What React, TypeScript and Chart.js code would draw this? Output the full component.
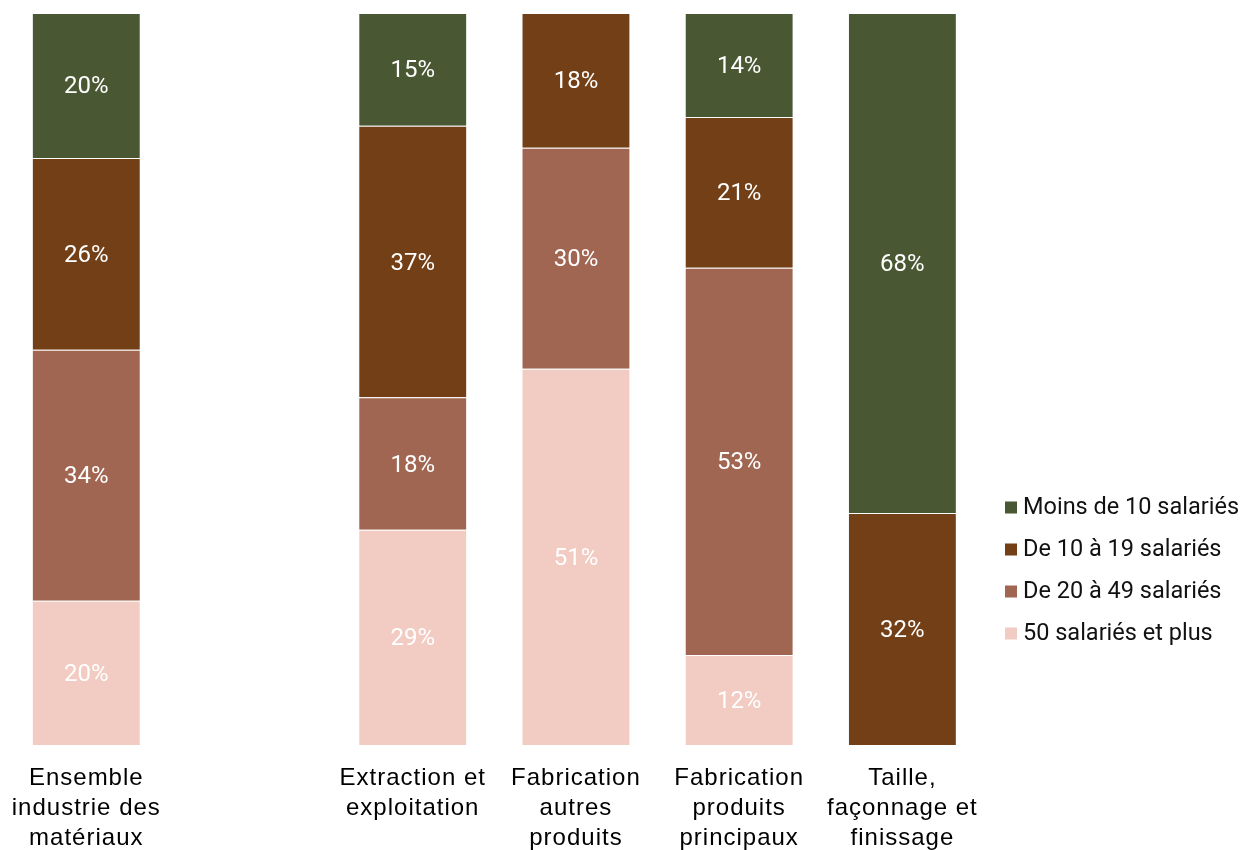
import React, { useEffect, useRef } from "react";
import { Chart, registerables } from "chart.js";

Chart.register(...registerables);

const categories: string[][] = [
  ["Ensemble", "industrie des", "matériaux"],
  [""],
  ["Extraction et", "exploitation"],
  ["Fabrication", "autres", "produits"],
  ["Fabrication", "produits", "principaux"],
  ["Taille,", "façonnage et", "finissage"],
];

const seriesNames = [
  "50 salariés et plus",
  "De 20 à 49 salariés",
  "De 10 à 19 salariés",
  "Moins de 10 salariés",
];

const plus50 = [19.7, null, 29.4, 51.4, 12.3, 0];
const de20a49 = [34.3, null, 18.1, 30.2, 52.9, 0];
const de10a19 = [26.2, null, 37.1, 18.4, 20.6, 31.7];
const moins10 = [19.8, null, 15.4, 0, 14.2, 68.3];

const seriesValues = [plus50, de20a49, de10a19, moins10];
const seriesColors = ["#f2cbc2", "#a16652", "#723f16", "#4a5733"];

const W = 1245;
const H = 880;

const letterSpacingPlugin = {
  id: "xLetterSpacing",
  beforeDraw(chart: any) {
    (chart.ctx as any).letterSpacing = "1px";
  },
  beforeDatasetsDraw(chart: any) {
    (chart.ctx as any).letterSpacing = "0px";
  },
};

const valueLabelPlugin = {
  id: "valueLabels",
  afterDatasetsDraw(chart: any) {
    const ctx = chart.ctx as CanvasRenderingContext2D;
    ctx.save();
    (ctx as any).letterSpacing = "0px";
    ctx.font = "24px Roboto";
    ctx.fillStyle = "#ffffff";
    ctx.textAlign = "center";
    ctx.textBaseline = "middle";
    chart.data.datasets.forEach((ds: any, i: number) => {
      const meta = chart.getDatasetMeta(i);
      meta.data.forEach((bar: any, j: number) => {
        const v = ds.data[j];
        if (v === null || v === undefined || v === 0) return;
        const cy = (bar.y + bar.base) / 2;
        ctx.fillText(Math.round(v) + "%", bar.x, cy + 2);
      });
    });
    ctx.restore();
  },
};

const legendPlugin = {
  id: "customLegend",
  afterDraw(chart: any) {
    const ctx = chart.ctx as CanvasRenderingContext2D;
    const area = chart.chartArea;
    const x0 = area.right + 21;
    const y0 = 507.5;
    const step = 42;
    ctx.save();
    (ctx as any).letterSpacing = "0px";
    ctx.font = "23.5px Roboto";
    ctx.textBaseline = "middle";
    ctx.textAlign = "left";
    const ds = chart.data.datasets;
    for (let k = 0; k < ds.length; k++) {
      const d = ds[ds.length - 1 - k];
      const y = y0 + k * step;
      ctx.fillStyle = d.backgroundColor;
      ctx.fillRect(x0, y - 6, 12, 12);
      ctx.fillStyle = "#111111";
      ctx.fillText(d.label, x0 + 18, y + 1);
    }
    ctx.restore();
  },
};

export default function App() {
  const ref = useRef<HTMLCanvasElement | null>(null);

  useEffect(() => {
    if (!ref.current) return;
    const chart = new Chart(ref.current, {
      type: "bar",
      data: {
        labels: categories,
        datasets: seriesNames.map((name, i) => ({
          label: name,
          data: seriesValues[i],
          backgroundColor: seriesColors[i],
          borderColor: "rgba(255,255,255,0.12)",
          borderWidth: 1,
          barPercentage: 0.667,
          categoryPercentage: 1,
        })),
      },
      options: {
        animation: false,
        responsive: false,
        devicePixelRatio: 1,
        layout: { padding: { left: 3, right: 261, top: 13, bottom: 0 } },
        plugins: {
          legend: { display: false },
          tooltip: { enabled: false },
        },
        scales: {
          x: {
            stacked: true,
            grid: { display: false, drawTicks: false },
            border: { display: false },
            ticks: {
              color: "#000000",
              font: { family: "'Liberation Sans', Arial, sans-serif", size: 24, lineHeight: 1.25 },
              padding: 18,
              maxRotation: 0,
              minRotation: 0,
              autoSkip: false,
            },
            afterFit: (scale: any) => {
              scale.height = H - 745;
            },
          },
          y: {
            stacked: true,
            display: false,
            min: 0,
            max: 100,
          },
        },
      },
      plugins: [letterSpacingPlugin, valueLabelPlugin, legendPlugin],
    });
    return () => chart.destroy();
  }, []);

  return (
    <div style={{ position: "fixed", left: 0, top: 0, width: W, height: 850, overflow: "hidden", background: "#ffffff" }}>
      <canvas ref={ref} width={W} height={H} style={{ width: W, height: H, display: "block" }} />
    </div>
  );
}
